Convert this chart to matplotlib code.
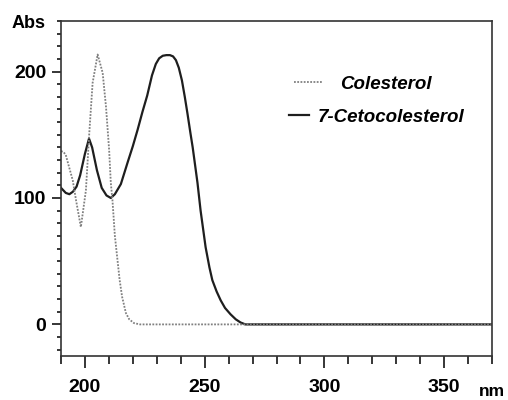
import matplotlib
matplotlib.use("Agg")
import matplotlib.pyplot as plt
from matplotlib.ticker import MultipleLocator
from matplotlib.lines import Line2D

plt.rcParams['font.family'] = ['Liberation Sans', 'DejaVu Sans']

# Cholesterol (dotted)
chol_nm = [190, 191, 192, 193.3, 194.9, 196.3, 198.3, 200.4, 201.8, 203.2, 205.3,
           207.4, 208.8, 210.1, 210.8, 211.5, 212.5, 214.5, 215.5, 217.1, 218.5,
           220.5, 223, 230, 260, 300, 370]
chol_abs = [137, 136.5, 134, 125, 114, 98, 77, 106, 151, 191, 213.5,
            199, 172, 138, 112, 98, 70, 35, 22, 9, 4,
            1, 0, 0, 0, 0, 0]

# 7-Ketocholesterol (solid)
keto_nm = [190, 191, 192, 193.5, 195, 196.5, 198, 200, 201.7, 203, 205, 207, 209,
           210.8, 212.5, 215, 217.8, 220, 222, 224, 226, 228, 229.6, 231, 232.5,
           234, 235.5, 236.8, 238, 239.2, 240.5, 241.7, 242.8, 244, 245, 246, 247,
           248.3, 250.4, 252, 253.2, 255, 256.7, 258.5, 260.8, 263, 265, 267,
           300, 370]
keto_abs = [108, 106, 104, 103, 105, 109, 118, 135, 147, 140, 122, 108, 102,
            100, 103, 111, 128, 141, 154, 168, 181, 197, 206, 210.5, 212.5,
            213, 213, 212, 209, 203, 193, 180, 167, 152, 140, 126, 112,
            90, 61, 45, 35, 26, 19, 13, 8, 4, 1.5, 0,
            0, 0]

labels = ["Colesterol", "7-Cetocolesterol"]
xticks = [200, 250, 300, 350]
yticks = [0, 100, 200]

fig = plt.figure(figsize=(5.08, 4.00), dpi=100)
ax = fig.add_axes([61/508, 1-356/400, (492-61)/508, (356-21)/400])

ax.plot(keto_nm, keto_abs, color='#1e1e1e', lw=1.6, solid_joinstyle='round')
ax.plot(chol_nm, chol_abs, color='#808080', lw=1.3, linestyle=(0, (1, 0.8)))

ax.set_xlim(190, 370)
ax.set_ylim(-25, 240)
ax.set_xticks(xticks)
ax.set_yticks(yticks)
ax.xaxis.set_minor_locator(MultipleLocator(10))
ax.yaxis.set_minor_locator(MultipleLocator(10))
ax.tick_params(axis='x', which='major', direction='out', length=8.5, width=1.1,
               pad=8, labelsize=14)
ax.tick_params(axis='x', which='minor', direction='out', length=5.5, width=1.1)
ax.tick_params(axis='y', which='major', direction='out', length=6.5, width=1.1,
               pad=4, labelsize=14)
ax.tick_params(axis='y', which='minor', direction='out', length=3.2, width=1.1)
for lab in ax.get_xticklabels() + ax.get_yticklabels():
    lab.set_fontweight('bold')
for sp in ax.spines.values():
    sp.set_linewidth(1.2)
    sp.set_color('#333333')

fig.text(12/508, 1-23/400, "Abs", fontsize=13, fontweight='bold', va='center', ha='left')
fig.text(479/508, 1-392/400, "nm", fontsize=12.5, fontweight='bold', va='center', ha='left')

h1 = Line2D([], [], color='#808080', lw=1.3, linestyle=(0, (1, 0.8)))
h2 = Line2D([], [], color='#1e1e1e', lw=1.6)
fp = dict(size=13.5, weight='bold', style='italic')
leg1 = fig.legend([h1], [labels[0]], loc='center left',
                  bbox_to_anchor=(294/508, 1-84/400), frameon=False, prop=fp,
                  borderpad=0, borderaxespad=0, handlelength=1.5, handletextpad=0.96)
leg2 = fig.legend([h2], [labels[1]], loc='center left',
                  bbox_to_anchor=(289/508, 1-117/400), frameon=False, prop=fp,
                  borderpad=0, borderaxespad=0, handlelength=1.07, handletextpad=0.48)

fig.savefig("out.png", dpi=100)
